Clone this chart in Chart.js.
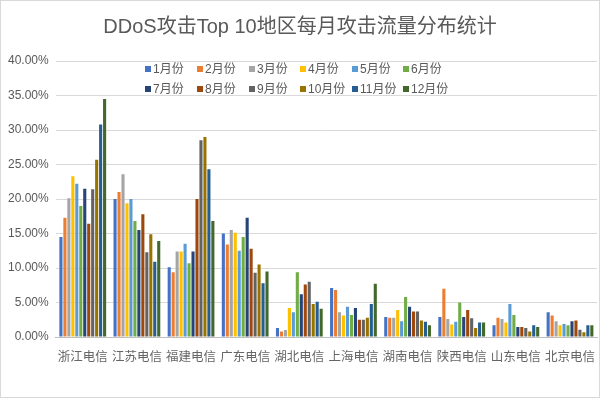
<!DOCTYPE html>
<html>
<head>
<meta charset="utf-8">
<script src="https://cdn.jsdelivr.net/npm/chart.js@4/dist/chart.umd.min.js"></script>
<style>
  html, body { margin: 0; padding: 0; background: #fff; }
  #wrap { position: relative; width: 598px; height: 396px; border: 1px solid #d9d9d9; }
</style>
</head>
<body>
<div id="wrap"><canvas id="c"></canvas></div>
<script>
const regions = ['浙江电信', '江苏电信', '福建电信', '广东电信', '湖北电信', '上海电信', '湖南电信', '陕西电信', '山东电信', '北京电信'];
const months = ['1月份', '2月份', '3月份', '4月份', '5月份', '6月份', '7月份', '8月份', '9月份', '10月份', '11月份', '12月份'];
const colors = ['#4472C4', '#ED7D31', '#A5A5A5', '#FFC000', '#5B9BD5', '#70AD47', '#264478', '#9E480E', '#636363', '#997300', '#255E91', '#43682B'];

// percent values per month, one entry per region
const m1  = [14.5, 20.0, 10.1, 15.0, 1.3, 7.1, 2.9, 2.9, 1.7, 3.6];
const m2  = [17.3, 21.0, 9.4, 13.4, 0.8, 6.8, 2.8, 7.0, 2.8, 3.1];
const m3  = [20.1, 23.6, 12.4, 15.5, 1.0, 3.6, 2.8, 2.6, 2.6, 2.3];
const m4  = [23.3, 19.4, 12.4, 15.1, 4.2, 3.1, 3.9, 1.8, 2.1, 1.7];
const m5  = [22.2, 20.0, 13.5, 12.5, 3.6, 4.4, 2.3, 2.2, 4.8, 1.9];
const m6  = [19.0, 16.8, 10.7, 14.5, 9.4, 3.2, 5.8, 5.0, 3.2, 1.7];
const m7  = [21.5, 15.5, 12.4, 17.3, 6.2, 4.2, 4.4, 2.9, 1.45, 2.3];
const m8  = [16.4, 17.8, 20.0, 12.8, 7.6, 2.5, 3.7, 3.9, 1.45, 2.4];
const m9  = [21.4, 12.3, 28.5, 9.3, 8.0, 2.5, 3.7, 2.7, 1.3, 1.05];
const m10 = [25.7, 14.9, 29.0, 10.5, 4.8, 2.8, 2.4, 1.3, 0.8, 0.7];
const m11 = [30.8, 10.9, 24.3, 7.8, 5.1, 4.8, 2.2, 2.1, 1.7, 1.7];
const m12 = [34.5, 13.9, 16.8, 9.5, 4.1, 7.7, 1.7, 2.1, 1.45, 1.7];
const series = [m1, m2, m3, m4, m5, m6, m7, m8, m9, m10, m11, m12];

const font = '"Liberation Sans", "Noto Sans CJK SC", sans-serif';
const cjk = '"Noto Sans CJK SC", sans-serif';

// Excel-style legend: 2 rows x 6 columns, drawn over the top of the plot area
const gridLegend = {
  id: 'gridLegend',
  afterDraw(chart) {
    const ctx = chart.ctx;
    const cols = [144, 196, 248, 299, 351, 402];
    const rows = [68, 88];
    ctx.save();
    ctx.font = '12px ' + font;
    ctx.textBaseline = 'middle';
    chart.data.datasets.forEach((ds, i) => {
      const x = cols[i % 6];
      const y = rows[Math.floor(i / 6)];
      ctx.fillStyle = ds.backgroundColor;
      ctx.fillRect(x, y - 3, 6, 6);
      ctx.fillStyle = '#595959';
      ctx.fillText(ds.label, x + 8, y + 1);
    });
    ctx.restore();
  },
};

new Chart(document.getElementById('c'), {
  type: 'bar',
  data: {
    labels: regions,
    datasets: series.map((d, i) => ({
      label: months[i],
      data: d,
      backgroundColor: colors[i],
      categoryPercentage: 0.88,
      barPercentage: 0.78,
    })),
  },
  options: {
    responsive: true,
    maintainAspectRatio: false,
    animation: false,
    layout: { padding: { left: 0, right: 0, top: 0, bottom: 29 } },
    plugins: {
      title: {
        display: true,
        text: 'DDoS攻击Top 10地区每月攻击流量分布统计',
        color: '#595959',
        font: { family: font, size: 20, weight: 'normal' },
        padding: { top: 14, bottom: 22 },
      },
      legend: { display: false },
      tooltip: { enabled: false },
    },
    scales: {
      x: {
        grid: { display: false },
        border: { color: '#bfbfbf' },
        ticks: { color: '#666666', padding: 4, font: { family: cjk, size: 12.5 }, maxRotation: 0, autoSkip: false },
      },
      y: {
        min: 0,
        max: 40,
        grid: { color: '#d9d9d9', drawTicks: false },
        border: { display: false },
        ticks: {
          stepSize: 5,
          color: '#595959',
          padding: 7,
          font: { family: font, size: 12 },
          callback: v => v.toFixed(2) + '%',
        },
      },
    },
  },
  plugins: [gridLegend],
});
</script>
</body>
</html>
